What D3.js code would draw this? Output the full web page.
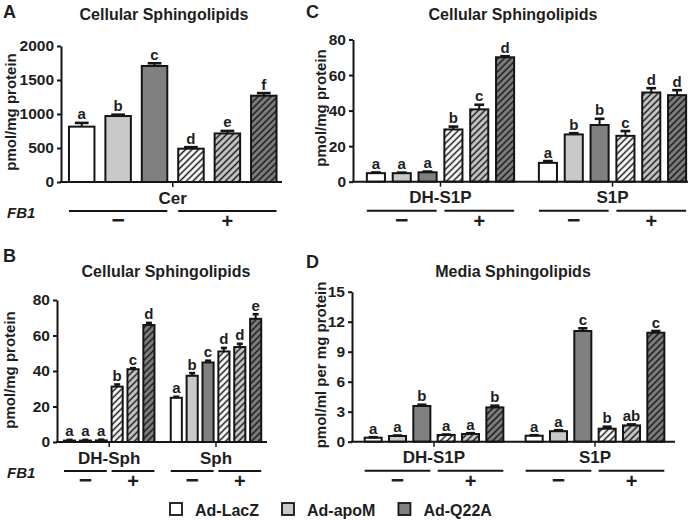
<!DOCTYPE html>
<html>
<head>
<meta charset="utf-8">
<script src="https://cdn.jsdelivr.net/npm/d3@7/dist/d3.min.js"></script>
<style>
  html, body { margin: 0; padding: 0; background: #ffffff; }
  svg { display: block; }
  text { font-family: "Liberation Sans", Arial, Helvetica, sans-serif; fill: #1e1e1e; }
</style>
</head>
<body>
<svg id="chart" width="700" height="521"></svg>
<script>
// ---------------- DATA ----------------
const seriesNames = ["Ad-LacZ", "Ad-apoM", "Ad-Q22A"];
const fb1Labels = ["\u2212", "+"];

// order within each group: LacZ-, apoM-, Q22A-, LacZ+, apoM+, Q22A+
const aGroups = ["Cer"];
const aValues = [[814, 970, 1706, 490, 714, 1269]];
const aErrors = [[55, 20, 40, 22, 37, 38]];
const aLetters = [["a", "b", "c", "d", "e", "f"]];
const aTicks = [0, 500, 1000, 1500, 2000];

const bGroups = ["DH-Sph", "Sph"];
const bValues = [[0.8, 0.8, 0.9, 31.2, 41.0, 65.9], [24.9, 37.3, 44.8, 51.0, 53.5, 69.4]];
const bErrors = [[0.4, 0.4, 0.4, 1.2, 0.6, 1.2], [0.6, 1.5, 1.0, 2.0, 1.8, 2.6]];
const bLetters = [["a", "a", "a", "b", "c", "d"], ["a", "b", "c", "d", "d", "e"]];
const bTicks = [0, 20, 40, 60, 80];

const cGroups = ["DH-S1P", "S1P"];
const cValues = [[4.8, 4.8, 5.3, 29.4, 40.7, 70.0], [10.6, 26.6, 31.9, 25.8, 50.2, 48.7]];
const cErrors = [[0.4, 0.3, 0.4, 1.6, 2.6, 0.6], [1.0, 0.7, 3.5, 2.7, 2.4, 2.8]];
const cLetters = [["a", "a", "a", "b", "c", "d"], ["a", "b", "b", "c", "d", "d"]];
const cTicks = [0, 20, 40, 60, 80];

const dGroups = ["DH-S1P", "S1P"];
const dValues = [[0.4, 0.57, 3.57, 0.67, 0.77, 3.43], [0.6, 1.05, 11.07, 1.3, 1.63, 10.9]];
const dErrors = [[0.05, 0.05, 0.13, 0.05, 0.08, 0.17], [0.05, 0.1, 0.27, 0.2, 0.1, 0.17]];
const dLetters = [["a", "a", "b", "a", "a", "b"], ["a", "a", "c", "b", "ab", "c"]];
const dTicks = [0, 3, 6, 9, 12, 15];

// ---------------- STYLE ----------------
const fills = ["#ffffff", "#c9c9c9", "#808080"];
const ink = "#151515";

const svg = d3.select("#chart");
svg.append("rect").attr("width", 700).attr("height", 521).attr("fill", "#ffffff");

const defs = svg.append("defs");
fills.forEach((f, i) => {
  const p = defs.append("pattern")
    .attr("id", "hatch" + i)
    .attr("patternUnits", "userSpaceOnUse")
    .attr("width", 4.6).attr("height", 4.6)
    .attr("patternTransform", "rotate(45)");
  p.append("rect").attr("width", 4.6).attr("height", 4.6).attr("fill", f);
  p.append("line").attr("x1", 2.3).attr("y1", -1).attr("x2", 2.3).attr("y2", 6)
    .attr("stroke", ink).attr("stroke-width", 1.5);
});

function drawPanel(p) {
  const g = svg.append("g");
  const y = d3.scaleLinear().domain([0, p.ticks[p.ticks.length - 1]]).range([p.y0, p.yTop]);
  const x0 = d3.scaleBand().domain(p.groups).range(p.bandRange).paddingInner(p.groupPad).paddingOuter(0);
  const x1 = d3.scaleBand().domain(d3.range(6)).range([0, x0.bandwidth()]).paddingInner(0.3).paddingOuter(0.15);
  const bw = x1.bandwidth();

  // panel letter & title
  g.append("text").attr("x", p.letterPos[0]).attr("y", p.letterPos[1])
    .attr("font-size", 18).attr("font-weight", "bold").text(p.letter);
  g.append("text").attr("x", p.titlePos[0]).attr("y", p.titlePos[1])
    .attr("text-anchor", "middle").attr("font-size", 16).attr("font-weight", "bold").text(p.title);

  // y axis
  const yAxis = d3.axisLeft(y).tickValues(p.ticks).tickSizeInner(4).tickSizeOuter(0).tickPadding(3)
    .tickFormat(d3.format("d"));
  const ya = g.append("g").attr("transform", `translate(${p.axisX},0)`).call(yAxis);
  ya.select(".domain").attr("stroke", ink).attr("stroke-width", 2);
  ya.selectAll(".tick line").attr("stroke", ink).attr("stroke-width", 2);
  ya.selectAll(".tick text").attr("font-size", 15.5).attr("font-weight", "bold")
    .attr("fill", "#1e1e1e").attr("font-family", '"Liberation Sans", Arial, sans-serif');

  // y label
  g.append("text").attr("transform", `translate(${p.yLabelPos[0]},${p.yLabelPos[1]}) rotate(-90)`)
    .attr("text-anchor", "middle").attr("font-size", 15).attr("font-weight", "bold").text(p.yLabel);

  // bars
  p.groups.forEach((grp, gi) => {
    const gx = x0(grp);
    p.values[gi].forEach((v, i) => {
      const s = i % 3;
      const hatched = i >= 3;
      const bx = gx + x1(i);
      g.append("rect")
        .attr("x", bx).attr("y", y(v))
        .attr("width", bw).attr("height", y(0) - y(v))
        .attr("fill", hatched ? `url(#hatch${s})` : fills[s])
        .attr("stroke", ink).attr("stroke-width", 2);
      const e = p.errors[gi][i];
      const cx = bx + bw / 2;
      g.append("line").attr("x1", cx).attr("x2", cx).attr("y1", y(v)).attr("y2", y(v + e))
        .attr("stroke", ink).attr("stroke-width", 2);
      g.append("line").attr("x1", cx - bw * 0.27).attr("x2", cx + bw * 0.27)
        .attr("y1", y(v + e)).attr("y2", y(v + e))
        .attr("stroke", ink).attr("stroke-width", 2.6);
      g.append("text").attr("x", cx).attr("y", y(v + e) - 3.5)
        .attr("text-anchor", "middle").attr("font-size", 15).attr("font-weight", "bold")
        .text(p.letters[gi][i]);
    });

    // group tick, group label
    const gc = gx + x0.bandwidth() / 2;
    g.append("line").attr("x1", gc).attr("x2", gc).attr("y1", p.y0).attr("y2", p.y0 + 5)
      .attr("stroke", ink).attr("stroke-width", 1.5);
    g.append("text").attr("x", gc).attr("y", p.y0 + 21.5)
      .attr("text-anchor", "middle").attr("font-size", 17).attr("font-weight", "bold").text(grp);

    // FB1 lines and symbols
    [[0, 2], [3, 5]].forEach((pair, k) => {
      const lx1 = gx + x1(pair[0]);
      const lx2 = gx + x1(pair[1]) + bw;
      const ly = p.y0 + 29;
      g.append("line").attr("x1", lx1).attr("x2", lx2).attr("y1", ly).attr("y2", ly)
        .attr("stroke", ink).attr("stroke-width", 2);
      g.append("text").attr("x", (lx1 + lx2) / 2).attr("y", ly + 17)
        .attr("text-anchor", "middle").attr("font-size", k === 0 ? 23 : 20).attr("font-weight", "bold")
        .text(fb1Labels[k]);
    });
  });

  // x axis baseline
  g.append("line").attr("x1", p.axisX - 1).attr("x2", p.axisEnd).attr("y1", p.y0).attr("y2", p.y0)
    .attr("stroke", ink).attr("stroke-width", 2);

  if (p.fb1) {
    g.append("text").attr("x", 7).attr("y", p.y0 + 35.5)
      .attr("font-size", 15).attr("font-weight", "bold").attr("font-style", "italic").text("FB1");
  }
}

drawPanel({
  letter: "A", letterPos: [3, 18], title: "Cellular Sphingolipids", titlePos: [164, 20],
  groups: aGroups, values: aValues, errors: aErrors, letters: aLetters, ticks: aTicks,
  y0: 182, yTop: 46, axisX: 61, axisEnd: 282, bandRange: [63.5, 282], groupPad: 0,
  yLabel: "pmol/mg protein", yLabelPos: [16, 112], fb1: true
});
drawPanel({
  letter: "B", letterPos: [3, 262], title: "Cellular Sphingolipids", titlePos: [166, 277],
  groups: bGroups, values: bValues, errors: bErrors, letters: bLetters, ticks: bTicks,
  y0: 442, yTop: 300, axisX: 57, axisEnd: 267, bandRange: [61.6, 263.6], groupPad: 0.108,
  yLabel: "pmol/mg protein", yLabelPos: [15, 370], fb1: true
});
drawPanel({
  letter: "C", letterPos: [306, 18], title: "Cellular Sphingolipids", titlePos: [513, 20],
  groups: cGroups, values: cValues, errors: cErrors, letters: cLetters, ticks: cTicks,
  y0: 181.7, yTop: 39.5, axisX: 353, axisEnd: 688, bandRange: [363, 690], groupPad: 0.099,
  yLabel: "pmol/mg protein", yLabelPos: [326, 108], fb1: false
});
drawPanel({
  letter: "D", letterPos: [306, 268], title: "Media Sphingolipids", titlePos: [513, 277],
  groups: dGroups, values: dValues, errors: dErrors, letters: dLetters, ticks: dTicks,
  y0: 441.7, yTop: 291.7, axisX: 352, axisEnd: 675, bandRange: [361, 668], groupPad: 0.093,
  yLabel: "pmol/ml per mg protein", yLabelPos: [326, 365], fb1: false
});

// ---------------- LEGEND ----------------
const legend = svg.append("g");
let lx = 170;
seriesNames.forEach((name, i) => {
  legend.append("rect").attr("x", lx).attr("y", 503).attr("width", 12).attr("height", 12)
    .attr("fill", fills[i]).attr("stroke", ink).attr("stroke-width", 1.8);
  const t = legend.append("text").attr("x", lx + 25).attr("y", 516)
    .attr("font-size", 16).attr("font-weight", "bold").text(name);
  lx = lx + 25 + t.node().getComputedTextLength() + 23;
});
</script>
</body>
</html>
